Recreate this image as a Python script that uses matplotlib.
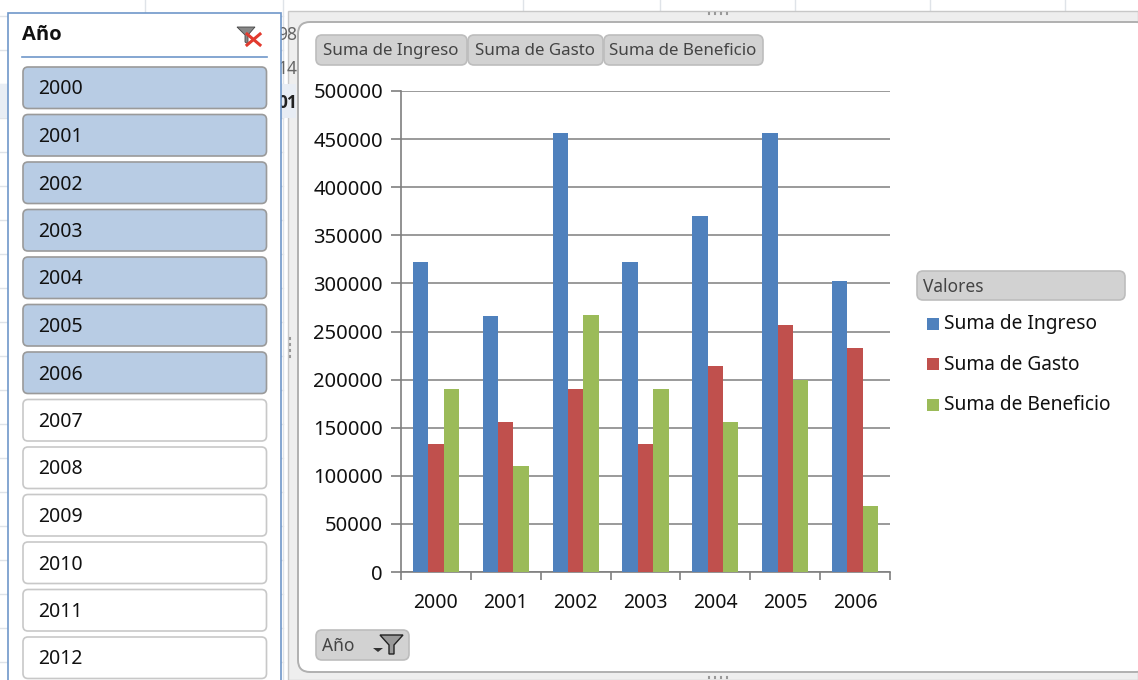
import matplotlib
matplotlib.use('Agg')
import matplotlib.pyplot as plt
from matplotlib.patches import FancyBboxPatch, Rectangle, Polygon
import numpy as np

plt.rcParams['font.family'] = ['Noto Sans', 'DejaVu Sans']

years = ['2000', '2001', '2002', '2003', '2004', '2005', '2006']
ingreso = [322000, 266000, 456000, 322000, 370000, 456000, 303000]
gasto = [133000, 156000, 190000, 133000, 214000, 257000, 233000]
beneficio = [190000, 110000, 267000, 190000, 156000, 200000, 69000]
series_names = ['Suma de Ingreso', 'Suma de Gasto', 'Suma de Beneficio']
series_colors = ['#4f81bd', '#c0504d', '#9bbb59']
slicer_years = ['2000', '2001', '2002', '2003', '2004', '2005', '2006',
                '2007', '2008', '2009', '2010', '2011', '2012']
selected_years = ['2000', '2001', '2002', '2003', '2004', '2005', '2006']

W, H = 1138, 680
fig = plt.figure(figsize=(W / 100, H / 100), dpi=100, facecolor='white')

# capa de fondo en pixeles: hoja, marco del grafico y slicer
bg = fig.add_axes([0, 0, 1, 1], zorder=0)
bg.set_xlim(0, W)
bg.set_ylim(H, 0)
bg.axis('off')


def button(ax, x, y, w, h, face, edge, r=5, lw=1.2, z=2):
    ax.add_patch(FancyBboxPatch((x + r, y + r), w - 2 * r, h - 2 * r,
                                boxstyle='round,pad=%d,rounding_size=%d' % (r, r),
                                fc=face, ec=edge, lw=lw, zorder=z))


# rejilla de la hoja de calculo
for gx in [145, 283, 523, 660, 795, 930, 1065]:
    bg.plot([gx, gx], [0, H], color='#dfe3e8', lw=1, zorder=0)
for gy in [16, 50, 84, 118, 152, 186, 220, 254, 288, 322, 356, 390, 424, 458, 492, 526, 560, 594, 628, 662]:
    bg.plot([0, 283], [gy, gy], color='#dfe3e8', lw=1, zorder=0)
bg.add_patch(Rectangle((0, 84), 296, 34, fc='#e8edf4', ec='none', zorder=0))

# marco del grafico
bg.add_patch(Rectangle((288, 11), 850, 669, fc='#eeeeee', ec='#c8c8c8', lw=1, zorder=1))
button(bg, 298, 22, 850, 650, 'white', '#b0b0b0', r=12, lw=1.4)
bg.add_patch(Rectangle((282, 84), 14, 34, fc='#e8edf4', ec='none', zorder=1))
bg.text(297, 35, '98', fontsize=12.5, color='#666666', ha='right', va='center', zorder=2)
bg.text(297, 69, '14', fontsize=12.5, color='#666666', ha='right', va='center', zorder=2)
bg.text(297, 103, '01', fontsize=12.5, color='#222222', ha='right', va='center',
        family='Open Sans', fontweight='bold', zorder=2)
for d in range(4):
    bg.plot([709 + d * 6, 709 + d * 6], [13, 14], color='#999999', lw=1.5, zorder=2)
    bg.plot([709 + d * 6, 709 + d * 6], [677, 678], color='#999999', lw=1.5, zorder=2)
    bg.plot([290, 290], [338 + d * 6, 339 + d * 6], color='#999999', lw=1.5, zorder=2)

# slicer
bg.add_patch(Rectangle((8, 13), 273, 680, fc='white', ec='#6f97c9', lw=1.2, zorder=3))
bg.text(22, 35, 'Año', fontsize=14.5, family='Open Sans', fontweight='bold',
        color='#111111', va='center', zorder=4)
bg.plot([22, 267], [57, 57], color='#6f97c9', lw=1.2, zorder=4)
bg.add_patch(Polygon([[237, 27], [255, 27], [248, 35], [248, 44], [245, 42], [245, 35]],
                     fc='#888888', ec='#444444', lw=0.6, zorder=4))
bg.plot([247, 260], [34, 45], color='#e23a2e', lw=2.2, zorder=5)
bg.plot([260, 247], [34, 45], color='#e23a2e', lw=2.2, zorder=5)
for i, yr in enumerate(slicer_years):
    top = 67 + i * 47.5
    on = yr in selected_years
    button(bg, 23, top, 243.5, 41.5, '#b8cce4' if on else 'white',
           '#9a9a9a' if on else '#c8c8c8', r=5, lw=1.2, z=4)
    bg.text(38, top + 22.5, yr, fontsize=14, color='#111111', va='center', zorder=5)

# botones de campo
field_btns = [(316, 152, series_names[0]), (468, 136, series_names[1]), (604, 160, series_names[2])]
for x, w, label in field_btns:
    button(bg, x, 35, w - 1, 30, '#d2d2d2', '#bdbdbd', r=6, z=3)
    bg.text(x + w / 2 - 1, 51, label, fontsize=12.2, color='#444444',
            ha='center', va='center', zorder=4)
button(bg, 316, 630, 93, 30, '#d2d2d2', '#bdbdbd', r=6, z=3)
bg.text(322, 646, 'Año', fontsize=12.5, color='#444444', va='center', zorder=4)
bg.add_patch(Polygon([[380, 635], [403, 635], [394, 645], [394, 654], [389, 654], [389, 645]],
                     fc='#999999', ec='#222222', lw=1, zorder=4))
bg.add_patch(Polygon([[373, 648], [383, 648], [378, 652]], fc='#333333', ec='none', zorder=4))

# leyenda
button(bg, 917, 271, 208, 29, '#d2d2d2', '#bdbdbd', r=6, z=3)
bg.text(923, 287, 'Valores', fontsize=12.5, color='#444444', va='center', zorder=4)
for i, (name, col) in enumerate(zip(series_names, series_colors)):
    ly = 323.5 + i * 40.5
    bg.add_patch(Rectangle((927, ly - 6), 12, 12, fc=col, ec='none', zorder=4))
    bg.text(944, ly + 1, name, fontsize=13.8, color='#111111', va='center', zorder=4)

# grafico de barras
ax = fig.add_axes([401 / W, 1 - 572 / H, (890 - 401) / W, (572 - 91) / H], zorder=2)
ax.patch.set_alpha(0)
x = np.arange(len(years))
bw = 0.22
ax.bar(x - bw, ingreso, bw, color=series_colors[0], zorder=3)
ax.bar(x, gasto, bw, color=series_colors[1], zorder=3)
ax.bar(x + bw, beneficio, bw, color=series_colors[2], zorder=3)
ax.set_xlim(-0.5, 6.5)
ax.set_ylim(0, 500000)
ax.set_yticks(range(0, 500001, 50000))
ax.set_xticks(x)
ax.set_xticklabels(years)
ax.set_xticks(np.arange(-0.5, 7, 1), minor=True)
ax.tick_params(axis='x', which='major', length=0, pad=15, labelsize=14, labelcolor='#111111')
ax.tick_params(axis='x', which='minor', length=6, color='#7f7f7f', width=1.2)
ax.tick_params(axis='y', length=7, color='#7f7f7f', width=1.2, pad=6, labelsize=14.5, labelcolor='#111111')
ax.grid(axis='y', color='#7f7f7f', lw=1.1, zorder=1)
for s in ['top', 'right']:
    ax.spines[s].set_visible(False)
for s in ['left', 'bottom']:
    ax.spines[s].set_color('#7f7f7f')
    ax.spines[s].set_linewidth(1.2)

fig.savefig('out.png', dpi=100)
